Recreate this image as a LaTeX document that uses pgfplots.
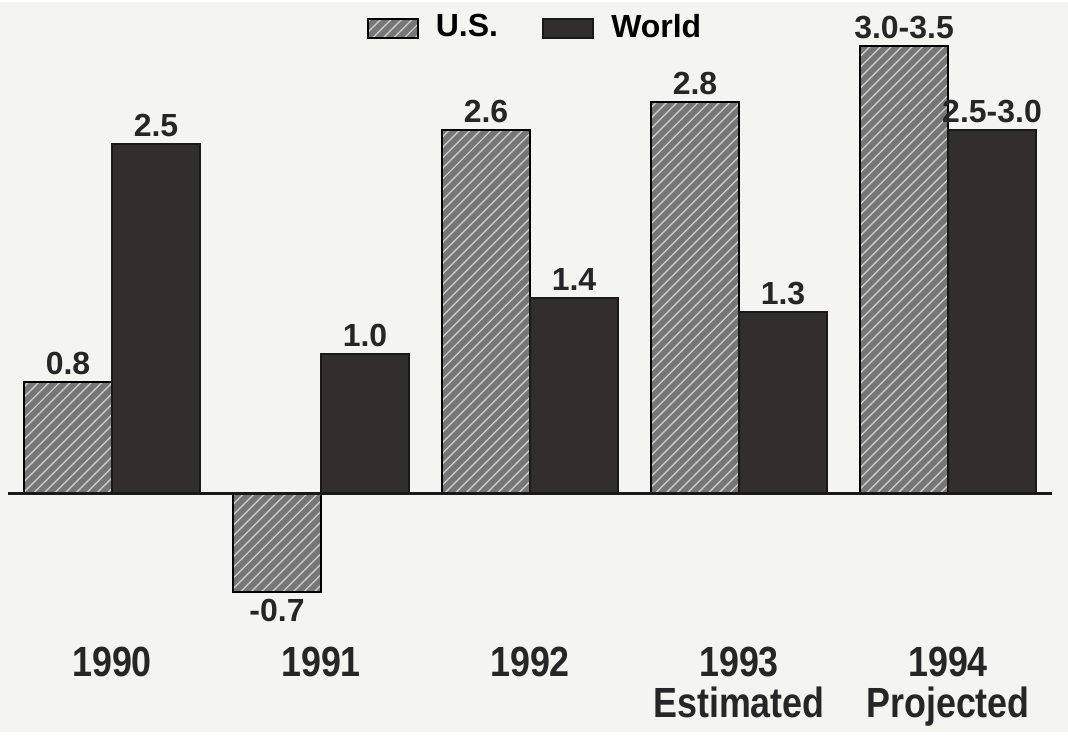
\documentclass[border=0pt]{standalone}
\usepackage{fontspec}
\setmainfont{Liberation Sans}
\newfontfamily\narrowbf[FakeStretch=0.85]{Liberation Sans Bold}
\usepackage{pgfplots}
\usepackage{pgfplotstable}
\pgfplotsset{compat=1.18}
\usetikzlibrary{patterns}

\definecolor{bg}{RGB}{244,244,241}
\definecolor{usgray}{RGB}{118,118,118}
\definecolor{ushatch}{RGB}{200,200,200}
\definecolor{world}{RGB}{50,46,46}

% bar height drawn, and the label printed above it
\pgfplotstableread{
x y lab
0 0.8 0.8
1 -0.7 -0.7
2 2.6 2.6
3 2.8 2.8
4 3.2 3.0-3.5
}\usdata
\pgfplotstableread{
x y lab
0 2.5 2.5
1 1.0 1.0
2 1.4 1.4
3 1.3 1.3
4 2.6 2.5-3.0
}\worlddata

\begin{document}
\begin{tikzpicture}
  \begin{axis}[
      scale only axis,
      width=10.68cm, height=7.30cm,
      xmin=-0.536, xmax=4.574,
      ymin=-1.7, ymax=3.514,
      axis lines=none,
      ticks=none,
      clip=false,
      axis background/.style={fill=bg},
      ybar,
      bar width=0.421,
      point meta=explicit symbolic,
      nodes near coords,
      every node near coord/.append style={
        font=\fontsize{9.1}{11}\selectfont\bfseries,
        inner ysep=0.06cm, text=black!85},
      coordinate style/.condition={y<0}{anchor=north},
      legend columns=2,
      legend image code/.code={
        \draw[#1] (0cm,-0.095cm) rectangle (0.5cm,0.095cm);},
      legend style={
        at={(0.5033,0.964)}, anchor=center,
        draw=none, fill=none,
        font=\fontsize{9.1}{11}\selectfont\bfseries,
        /tikz/every odd column/.append style={column sep=0.1cm},
        /tikz/every even column/.append style={column sep=0.37cm}},
    ]

    \addplot[bar shift=-0.2105, draw=black, line width=0.6pt,
      fill=usgray, postaction={pattern=north east lines, pattern color=ushatch}]
      table[x=x, y=y, meta=lab] {\usdata};
    \addlegendentry{U.S.}

    \addplot[bar shift=0.2105, draw=black!90, line width=0.6pt, fill=world]
      table[x=x, y=y, meta=lab] {\worlddata};
    \addlegendentry{World}

    \draw[line width=0.85pt, black!90] (axis cs:-0.498,0) -- (axis cs:4.498,0);

    \begin{scope}[every node/.style={anchor=base, text=black!85,
        font=\fontsize{12}{14}\selectfont\narrowbf}]
      \node at (axis cs:0,-1.307) {1990};
      \node at (axis cs:1,-1.307) {1991};
      \node at (axis cs:2,-1.307) {1992};
      \node at (axis cs:3,-1.307) {1993};
      \node at (axis cs:4,-1.307) {1994};
      \node at (axis cs:3,-1.593) {Estimated};
      \node at (axis cs:4,-1.593) {Projected};
    \end{scope}
  \end{axis}
\end{tikzpicture}
\end{document}
